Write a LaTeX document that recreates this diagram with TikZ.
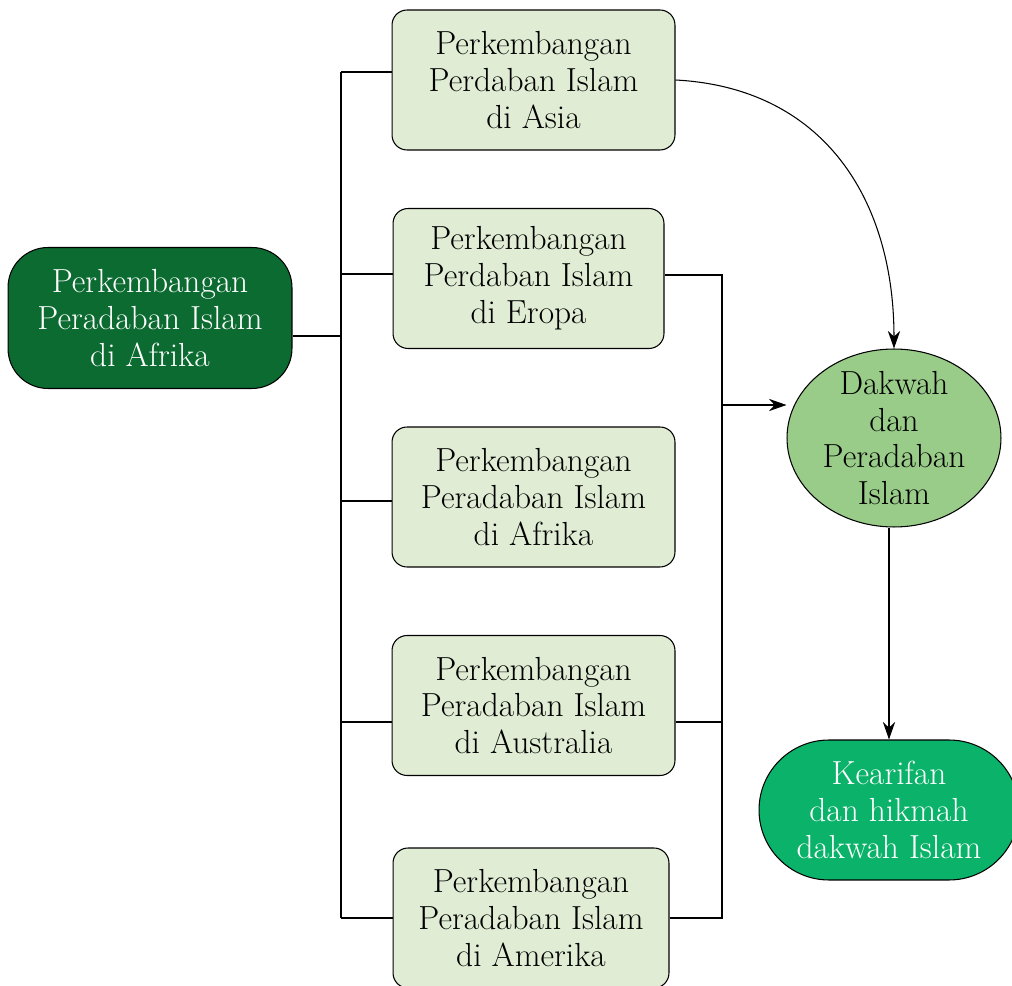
\documentclass[tikz,border=0pt]{standalone}
\usepackage{amsmath}
\usetikzlibrary{arrows.meta}
\usetikzlibrary{shapes}
\definecolor{darkGreen}{HTML}{0B6B30}
\definecolor{paleGreen}{HTML}{E0ECD4}
\definecolor{midGreen}{HTML}{99CC88}
\definecolor{brightGreen}{HTML}{0BB36A}

\begin{document}
\begin{tikzpicture}[x = 0.02cm, y = -0.02cm, font = \fontsize{19}{21}\selectfont]
\tikzstyle{EdgeStyle} = [line width = 0.6pt]
\tikzstyle{ArrowStyle} = [line width = 0.6pt, -{Stealth[length = 10pt, width = 7pt]}]
\tikzstyle{regionStyle} = [draw, line width = 0.6pt, rounded corners = 0.3cm, fill = paleGreen, align = center, minimum width = 5.66cm, minimum height = 2.8cm, inner sep = 0pt]
\tikzstyle{sourceStyle} = [draw, line width = 0.6pt, rounded corners = 0.8cm, fill = darkGreen, text = white, align = center, minimum width = 5.68cm, minimum height = 2.82cm, inner sep = 0pt]
\tikzstyle{hubStyle} = [draw, line width = 0.6pt, shape = ellipse, fill = midGreen, minimum width = 4.28cm, minimum height = 3.56cm, inner sep = 0pt]
\tikzstyle{goalStyle} = [draw, line width = 0.6pt, rounded corners = 1.4cm, fill = brightGreen, text = white, align = center, minimum width = 5.2cm, minimum height = 2.8cm, inner sep = 0pt]
\useasboundingbox (0,0) rectangle (1012,986);
\node[sourceStyle] (afrikaSrc) at (150,318) {Perkembangan\\Peradaban Islam\\di Afrika};
\node[regionStyle] (asia) at (533.5,80) {Perkembangan\\Perdaban Islam\\di Asia};
\node[regionStyle, minimum width = 5.42cm] (eropa) at (528.5,278.5) {Perkembangan\\Perdaban Islam\\di Eropa};
\node[regionStyle] (afrika) at (533.5,497) {Perkembangan\\Peradaban Islam\\di Afrika};
\node[regionStyle] (australia) at (533.5,705.5) {Perkembangan\\Peradaban Islam\\di Australia};
\node[regionStyle, minimum width = 5.52cm] (amerika) at (531,918) {Perkembangan\\Peradaban Islam\\di Amerika};
\node[hubStyle, label = {[align = center]center:Dakwah\\dan\\Peradaban\\Islam}] (dakwah) at (894,438) {};
\node[goalStyle] (kearifan) at (889,810) {Kearifan\\dan hikmah\\dakwah Islam};
% left bus
\coordinate (jIn) at (341,336);
\coordinate (jA) at (341,72);
\coordinate (jE) at (341,274);
\coordinate (jF) at (341,501);
\coordinate (jU) at (341,722);
\coordinate (jM) at (341,918);
\draw[EdgeStyle] (afrikaSrc.east |- jIn) -- (jIn);
\draw[EdgeStyle] (jA) -- (jM);
\draw[EdgeStyle] (jA) -- (asia.west |- jA);
\draw[EdgeStyle] (jE) -- (eropa.west |- jE);
\draw[EdgeStyle] (jF) -- (afrika.west |- jF);
\draw[EdgeStyle] (jU) -- (australia.west |- jU);
\draw[EdgeStyle] (jM) -- (amerika.west |- jM);
% right bus
\coordinate (rE) at (722,275);
\coordinate (rU) at (722,722);
\coordinate (rM) at (722,918);
\coordinate (rOut) at (722,405);
\draw[EdgeStyle] (eropa.east |- rE) -- (rE) -- (rM) -- (amerika.east |- rM);
\draw[EdgeStyle] (australia.east |- rU) -- (rU);
\draw[ArrowStyle] (rOut) -- (dakwah.west |- rOut);
% arrows to the hub and the goal
\draw[ArrowStyle] (asia.east) to[out = -3, in = 90, looseness = 1.1] (dakwah.north);
\draw[ArrowStyle] (dakwah.south -| kearifan.north) -- (kearifan.north);
\end{tikzpicture}
\end{document}
